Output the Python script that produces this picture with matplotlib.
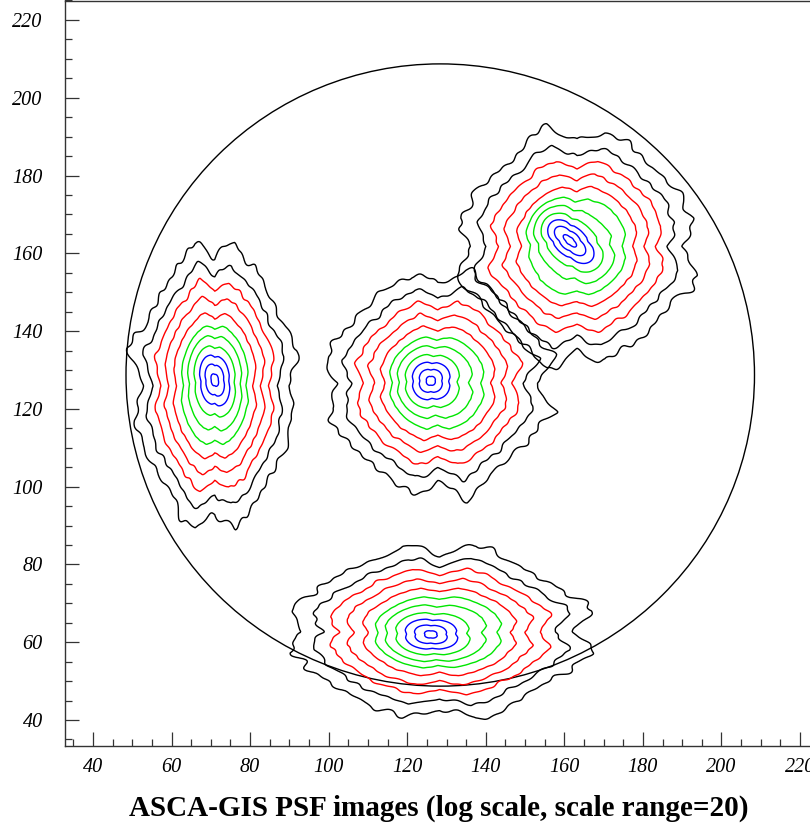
import numpy as np
import matplotlib
matplotlib.use("Agg")
import matplotlib.pyplot as plt
from matplotlib.patches import Circle
from matplotlib.ticker import MultipleLocator

# ---- data ----
# radial profile of the PSF (centre image): radius (pixels) vs log10 brightness
profile_radius = [0.0, 1.2, 3.1, 5.0, 7.1, 9.6, 12.1, 14.9, 17.9, 21.0, 24.2, 28.2, 34.0, 80.0]
profile_log = [0.0, -0.108, -0.217, -0.325, -0.434, -0.542, -0.651, -0.759,
               -0.867, -0.976, -1.084, -1.193, -1.301, -2.6]
contour_levels = [-1.193, -1.084, -0.976, -0.867, -0.759, -0.651, -0.542, -0.434, -0.325, -0.217, -0.108]
contour_colors = ["black", "black", "red", "red", "red",
                  "#00e600", "#00e600", "#00e600", "blue", "blue", "blue"]

# the four PSF images
src_x = [71.0, 126.0, 161.4, 126.0]
src_y = [127.4, 127.2, 163.2, 62.0]
core_major = [1.37, 1.0, 1.72, 1.40]
core_minor = [0.80, 1.0, 0.72, 0.80]
core_angle = [100.0, 0.0, -42.0, -4.0]
halo_x = [0.72, 1.0, 1.05, 1.34]
halo_y = [1.28, 1.0, 1.05, 0.77]
halo_shift_x = [0.0, 1.8, 1.8, 2.2]
halo_shift_y = [-1.5, -0.6, -1.4, 0.6]
square_amp = [0.05, 0.05, 0.05, 0.05]      # inner contours: square-ish
diamond_amp = [0.12, 0.12, 0.12, 0.12]     # outer contours: diamond-ish
notch_amp = [0.17, 0.18, 0.17, 0.17]       # notches on the x / y axes

# irregularity of the outer contours
ripple_order = [5, 7, 9, 13, 17, 23, 29, 37, 43]
ripple_amp = [0.008, 0.010, 0.012, 0.014, 0.013, 0.011, 0.010, 0.009, 0.008]
ripple_k = [0.10, -0.15, 0.20, -0.12, 0.25, -0.20, 0.30, -0.35, 0.40]
ripple_phase = [
    [0.3, 1.9, 4.1, 2.2, 5.5, 0.8, 3.3, 1.0, 4.7],
    [2.1, 0.4, 3.6, 5.2, 1.1, 4.4, 2.7, 5.8, 0.6],
    [4.6, 3.0, 1.2, 0.5, 2.9, 5.9, 1.6, 3.8, 2.4],
    [1.4, 5.1, 2.5, 3.9, 0.2, 2.0, 4.8, 0.9, 3.1],
]

# detector field of view
fov_x, fov_y, fov_r = 128.4, 128.7, 80.0

title_text = "ASCA-GIS PSF images (log scale, scale range=20)"

# ---- figure ----
fig = plt.figure(figsize=(8.10, 8.26), dpi=100)
ax = fig.add_axes([65 / 810, 80 / 826, 754.7 / 810, 745.5 / 826])
ax.set_xlim(32.87, 225.0)
ax.set_ylim(33.31, 225.0)

xg = np.linspace(28, 232, 817)
yg = np.linspace(28, 232, 817)
X, Y = np.meshgrid(xg, yg)

for i in range(len(src_x)):
    dx = X - src_x[i]
    dy = Y - src_y[i]
    a = np.deg2rad(core_angle[i])
    u = dx * np.cos(a) + dy * np.sin(a)
    v = -dx * np.sin(a) + dy * np.cos(a)
    r_core = np.sqrt((u / core_major[i]) ** 2 + (v / core_minor[i]) ** 2)
    r_h0 = np.sqrt((dx / halo_x[i]) ** 2 + (dy / halo_y[i]) ** 2)
    t = np.clip((r_h0 - 3.0) / 9.0, 0, 1)
    hx = dx - halo_shift_x[i] * t
    hy = dy - halo_shift_y[i] * t
    r_halo = np.sqrt((hx / halo_x[i]) ** 2 + (hy / halo_y[i]) ** 2)
    rho = (1 - t) * r_core + t * r_halo
    phi = np.arctan2(hy / halo_y[i], hx / halo_x[i])
    d = np.abs(((phi + np.pi / 4) % (np.pi / 2)) - np.pi / 4)
    notch = np.clip(1 - d / 0.24, 0, None)
    s = np.clip(rho / 28.0, 0, 1.3)
    A = square_amp[i] - diamond_amp[i] * s
    B = notch_amp[i] * (0.4 + 0.6 * s)
    ripple = np.zeros_like(rho)
    for n, amp, k, ph in zip(ripple_order, ripple_amp, ripple_k, ripple_phase[i]):
        ripple += amp * np.sin(n * phi + k * rho + ph)
    rho_eff = rho * (1 + A * np.cos(4 * phi) + B * notch + s ** 2 * ripple)
    L = np.interp(rho_eff, profile_radius, profile_log)
    ax.contour(X, Y, L, levels=contour_levels, colors=contour_colors, linewidths=1.0)

ax.add_patch(Circle((fov_x, fov_y), fov_r, fill=False, edgecolor="black", linewidth=1.0))

ax.xaxis.set_major_locator(MultipleLocator(20))
ax.xaxis.set_minor_locator(MultipleLocator(5))
ax.yaxis.set_major_locator(MultipleLocator(20))
ax.yaxis.set_minor_locator(MultipleLocator(5))
ax.tick_params(which="both", direction="in", top=False, right=False, width=0.9, color="#333333")
ax.tick_params(which="major", length=10)
ax.tick_params(which="minor", length=5)
ax.tick_params(axis="x", which="major", pad=9)
ax.tick_params(axis="y", which="major", pad=16)
for lab in ax.get_xticklabels() + ax.get_yticklabels():
    lab.set_fontfamily("Liberation Serif")
    lab.set_fontstyle("italic")
    lab.set_fontsize(14.5)
for sp in ax.spines.values():
    sp.set_linewidth(1.0)
    sp.set_color("#333333")

fig.text(439 / 810, 1 - 808 / 826, title_text, ha="center", va="center",
         fontfamily="Liberation Serif", fontweight="bold", fontsize=21)

fig.savefig("out.png", dpi=100)
